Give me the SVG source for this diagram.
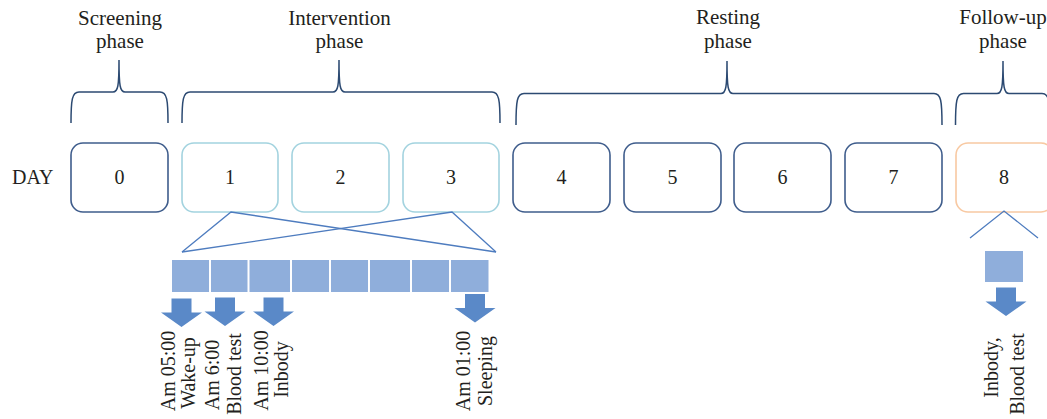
<svg xmlns="http://www.w3.org/2000/svg" width="1047" height="419" viewBox="0 0 1047 419">
<style>
text{font-family:"Liberation Serif","Times New Roman",serif;fill:#231f20;font-size:20px}
.lbl{text-anchor:middle}
.ph{font-size:21px}
.brace{fill:none;stroke:#2c4a72;stroke-width:1.5}
.dark{fill:#fff;stroke:#3f5d8c;stroke-width:1.6}
.teal{fill:#fff;stroke:#a3d3df;stroke-width:1.6}
.peach{fill:#fff;stroke:#f8c9a2;stroke-width:1.6}
.line{fill:none;stroke:#4e7cbf;stroke-width:1.3}
.seg{fill:#8faedb}
.arr{fill:#5a89c8}
</style>
<defs>
<path id="arrow" d="M-10,0 H10 V14 H20.5 L0,28.5 L-20.5,14 H-10 Z"/>
</defs>

<g id="phases">
<text class="lbl ph" x="120" y="25">Screening</text>
<text class="lbl ph" x="120" y="48">phase</text>
<text class="lbl ph" x="339.5" y="25">Intervention</text>
<text class="lbl ph" x="339.5" y="48">phase</text>
<text class="lbl ph" x="728" y="24">Resting</text>
<text class="lbl ph" x="728" y="48">phase</text>
<text class="lbl ph" x="1003" y="24">Follow-up</text>
<text class="lbl ph" x="1003" y="48">phase</text>
</g>

<g id="braces">
<path class="brace" d="M71,123 C71,100 72,92 79,92 L113,92 C118,92 119,86 119,60 C119,86 120,92 125,92 L160,92 C167,92 168,100 168,123"/>
<path class="brace" d="M182,123 C182,100 183,92 190,92 L333,92 C338,92 339,86 339,60 C339,86 340,92 345,92 L492,92 C499,92 500,100 500,123"/>
<path class="brace" d="M516,125 C516,101 517,93.5 524,93.5 L721,93.5 C726,93.5 727,87 727,61 C727,87 728,93.5 733,93.5 L934,93.5 C941,93.5 942,101 942,125"/>
<path class="brace" d="M955.5,125 C955.5,101 956.5,93.5 963.5,93.5 L997,93.5 C1002,93.5 1003,87 1003,61 C1003,87 1004,93.5 1009,93.5 L1042,93.5 C1049,93.5 1050,101 1050,125"/>
</g>

<text x="12" y="184">DAY</text>

<g id="day0"><rect class="dark" x="71" y="143" width="97" height="69" rx="12"/><text class="lbl" x="119.5" y="184">0</text></g>
<g id="day1"><rect class="teal" x="182" y="143" width="96" height="69" rx="12"/><text class="lbl" x="230" y="184">1</text></g>
<g id="day2"><rect class="teal" x="292" y="143" width="97" height="69" rx="12"/><text class="lbl" x="340.5" y="184">2</text></g>
<g id="day3"><rect class="teal" x="403" y="143" width="96" height="69" rx="12"/><text class="lbl" x="451" y="184">3</text></g>
<g id="day4"><rect class="dark" x="513" y="143" width="97" height="69" rx="12"/><text class="lbl" x="561.5" y="184">4</text></g>
<g id="day5"><rect class="dark" x="624" y="143" width="97" height="69" rx="12"/><text class="lbl" x="672.5" y="184">5</text></g>
<g id="day6"><rect class="dark" x="734" y="143" width="97" height="69" rx="12"/><text class="lbl" x="782.5" y="184">6</text></g>
<g id="day7"><rect class="dark" x="845" y="143" width="97" height="69" rx="12"/><text class="lbl" x="893.5" y="184">7</text></g>
<g id="day8"><rect class="peach" x="956" y="143" width="97" height="69" rx="12"/><text class="lbl" x="1004" y="184">8</text></g>

<g id="connectors">
<polyline class="line" points="182,252 231,212 496,252"/>
<polyline class="line" points="182,252 452,212 496,252"/>
<polyline class="line" points="970,238 1004,211 1038,238"/>
</g>

<g id="timeline">
<rect class="seg" x="172" y="260" width="37" height="32"/>
<rect class="seg" x="211" y="260" width="36.5" height="32"/>
<rect class="seg" x="249.5" y="260" width="40.5" height="32"/>
<rect class="seg" x="292" y="260" width="37" height="32"/>
<rect class="seg" x="331" y="260" width="37" height="32"/>
<rect class="seg" x="370" y="260" width="40" height="32"/>
<rect class="seg" x="412" y="260" width="37" height="32"/>
<rect class="seg" x="451" y="260" width="37.5" height="32"/>
</g>

<g id="events">
<use href="#arrow" class="arr" x="181.5" y="298.5"/>
<use href="#arrow" class="arr" x="225" y="297.5"/>
<use href="#arrow" class="arr" x="273.5" y="297.5"/>
<use href="#arrow" class="arr" x="475" y="294"/>
<text class="lbl" transform="translate(175,371) rotate(-90)">Am 05:00</text>
<text class="lbl" transform="translate(195,373) rotate(-90)">Wake-up</text>
<text class="lbl" transform="translate(219,375) rotate(-90)">Am 6:00</text>
<text class="lbl" transform="translate(240.5,374) rotate(-90)">Blood test</text>
<text class="lbl" transform="translate(268,370.5) rotate(-90)">Am 10:00</text>
<text class="lbl" transform="translate(288,369.5) rotate(-90)">Inbody</text>
<text class="lbl" transform="translate(470,371) rotate(-90)">Am 01:00</text>
<text class="lbl" transform="translate(491.5,371) rotate(-90)">Sleeping</text>
</g>

<g id="followup">
<rect class="seg" x="985" y="251" width="38" height="31"/>
<use href="#arrow" class="arr" x="1006" y="287.5"/>
<text class="lbl" transform="translate(998,367.5) rotate(-90)">Inbody,</text>
<text class="lbl" transform="translate(1024,374) rotate(-90)">Blood test</text>
</g>
</svg>
